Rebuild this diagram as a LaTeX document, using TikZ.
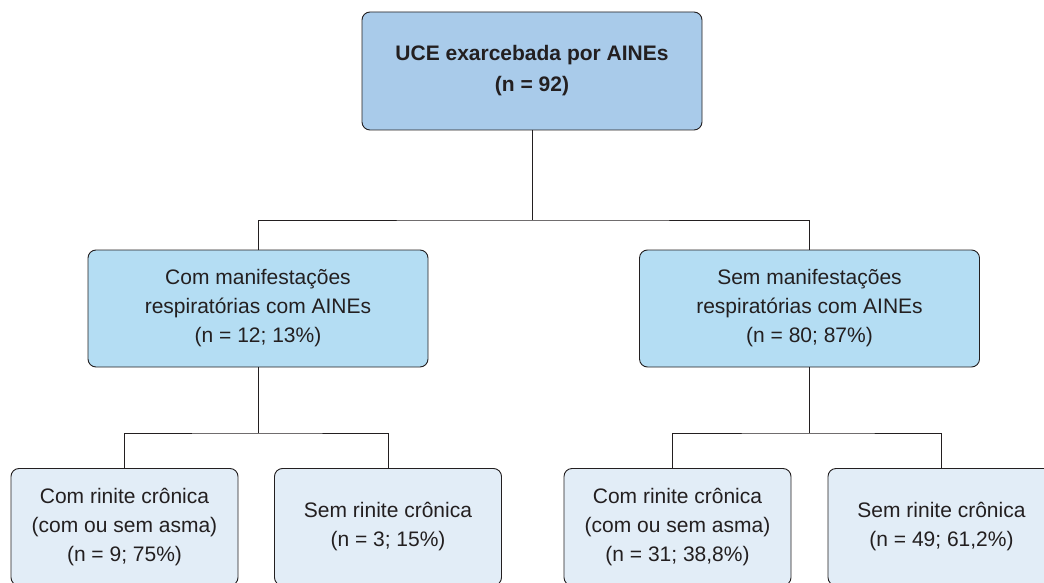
\documentclass[tikz,border=0pt]{standalone}
\usepackage{fontspec}
\setmainfont{Liberation Sans}
\usepackage{tikz}
\usetikzlibrary{calc}

\definecolor{topfill}{HTML}{A9CBEA}
\definecolor{midfill}{HTML}{B4DDF3}
\definecolor{lowfill}{HTML}{E2EDF7}
\definecolor{inkgray}{HTML}{231F20}

\begin{document}
\begin{tikzpicture}[x=1pt,y=-1pt,
    box/.style={draw=inkgray, line width=0.9pt, rounded corners=8pt, align=center,
      inner sep=0pt, outer sep=0pt, text=inkgray,
      font=\fontsize{21}{29}\selectfont},
    topbox/.style={box, fill=topfill, minimum width=340pt, minimum height=118pt,
      font=\fontsize{21}{31}\selectfont\bfseries},
    midbox/.style={box, fill=midfill, minimum width=340pt, minimum height=117pt},
    lowbox/.style={box, fill=lowfill, minimum width=227pt, minimum height=117pt},
    link/.style={draw=inkgray, line width=0.9pt}]
      \useasboundingbox (0,0) rectangle (1044,583);

      \node[topbox] (uce) at (532,71) {UCE exarcebada por AINEs\\(n = 92)};

      \node[midbox] (com) at (258,308.5) {Com manifestações\\respiratórias com AINEs\\(n = 12; 13\%)};
      \node[midbox] (sem) at (809.5,308.5) {Sem manifestações\\respiratórias com AINEs\\(n = 80; 87\%)};

      \node[lowbox] (comA) at (124.5,527) {Com rinite crônica\\(com ou sem asma)\\(n = 9; 75\%)};
      \node[lowbox] (comB) at (388,527) {Sem rinite crônica\\(n = 3; 15\%)};
      \node[lowbox] (semA) at (677.5,527) {Com rinite crônica\\(com ou sem asma)\\(n = 31; 38,8\%)};
      \node[lowbox] (semB) at (941.5,527) {Sem rinite crônica\\(n = 49; 61,2\%)};

      % branch points
      \coordinate (j0) at ($(uce.south)+(0,90)$);
      \coordinate (j1) at ($(com.south)+(0,66)$);
      \coordinate (j2) at ($(sem.south)+(0,66)$);
      \coordinate (semAtop) at ($(semA.north)+(-5.5,0)$);

      \draw[link] (uce.south)--(j0);
      \draw[link] (com.north)|-(j0)-|(sem.north);
      \draw[link] (com.south)--(j1);
      \draw[link] (comA.north)|-(j1)-|(comB.north);
      \draw[link] (sem.south)--(j2);
      \draw[link] (semAtop)|-(j2)-|(semB.north);
    \end{tikzpicture}
\end{document}
